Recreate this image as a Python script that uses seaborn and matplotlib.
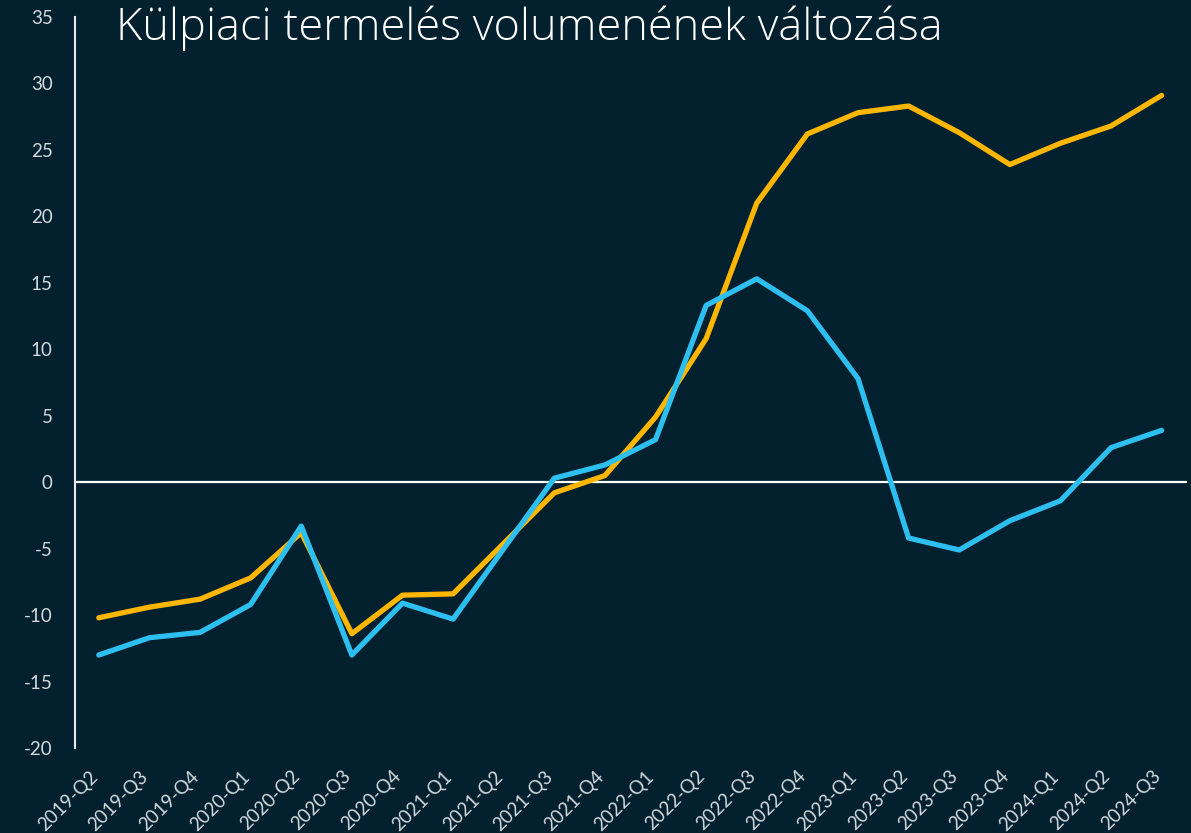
import pandas as pd
import seaborn as sns
import matplotlib.pyplot as plt
from matplotlib.transforms import ScaledTranslation

quarters = ['2019-Q2', '2019-Q3', '2019-Q4', '2020-Q1', '2020-Q2', '2020-Q3', '2020-Q4',
            '2021-Q1', '2021-Q2', '2021-Q3', '2021-Q4', '2022-Q1', '2022-Q2', '2022-Q3',
            '2022-Q4', '2023-Q1', '2023-Q2', '2023-Q3', '2023-Q4', '2024-Q1', '2024-Q2',
            '2024-Q3']
orange_vals = [-10.2, -9.4, -8.8, -7.2, -3.8, -11.4, -8.5, -8.4, -4.6, -0.8, 0.5,
               4.9, 10.8, 21.0, 26.2, 27.8, 28.3, 26.3, 23.9, 25.5, 26.8, 29.1]
blue_vals = [-13.0, -11.7, -11.3, -9.2, -3.3, -13.0, -9.1, -10.3, -5.0, 0.3, 1.3,
             3.2, 13.3, 15.3, 12.9, 7.8, -4.2, -5.1, -2.9, -1.4, 2.6, 3.9]
title = 'Külpiaci termelés volumenének változása'

BG = '#03202F'
TXT = '#D3DADE'

df = pd.DataFrame({
    'x': list(range(len(quarters))) * 2,
    'value': orange_vals + blue_vals,
    'series': ['orange'] * len(quarters) + ['blue'] * len(quarters),
})

sns.set_style('white')
plt.rcParams['font.family'] = ['Lato', 'DejaVu Sans']
plt.rcParams['axes.unicode_minus'] = False

fig = plt.figure(figsize=(11.91, 8.33), dpi=100, facecolor=BG)
ax = fig.add_axes([0.063, 0.102, 0.9336, 0.8776], facecolor=BG)

ax.axhline(0, color='white', lw=1.6, zorder=1)
sns.lineplot(data=df, x='x', y='value', hue='series',
             palette={'orange': '#FFB600', 'blue': '#2DBFF0'},
             linewidth=3.8, legend=False, ax=ax, zorder=3,
             solid_capstyle='round')

ax.set_xlim(-0.47, 21.5)
ax.set_ylim(-20, 35)
ax.set_yticks(range(-20, 40, 5))
ax.set_xticks(range(len(quarters)))
ax.set_xticklabels(quarters, rotation=45, ha='right', rotation_mode='anchor')
ax.tick_params(axis='both', colors=TXT, labelsize=13.5, length=0)
ax.tick_params(axis='y', pad=16)
ax.tick_params(axis='x', pad=14)
ax.set_xlabel('')
ax.set_ylabel('')

# nudge the rotated quarter labels a bit left, like the original
shift = ScaledTranslation(-10 / 100, 0, fig.dpi_scale_trans)
for lbl in ax.get_xticklabels():
    lbl.set_transform(lbl.get_transform() + shift)

for s in ['top', 'right', 'bottom']:
    ax.spines[s].set_visible(False)
ax.spines['left'].set_color('#E6EAEC')
ax.spines['left'].set_linewidth(1.5)

fig.text(0.097, 0.966, title, color='white', fontsize=32.5,
         family=['Open Sans', 'DejaVu Sans'], fontweight='light', va='center')

fig.savefig('out.png', dpi=100, facecolor=BG)
